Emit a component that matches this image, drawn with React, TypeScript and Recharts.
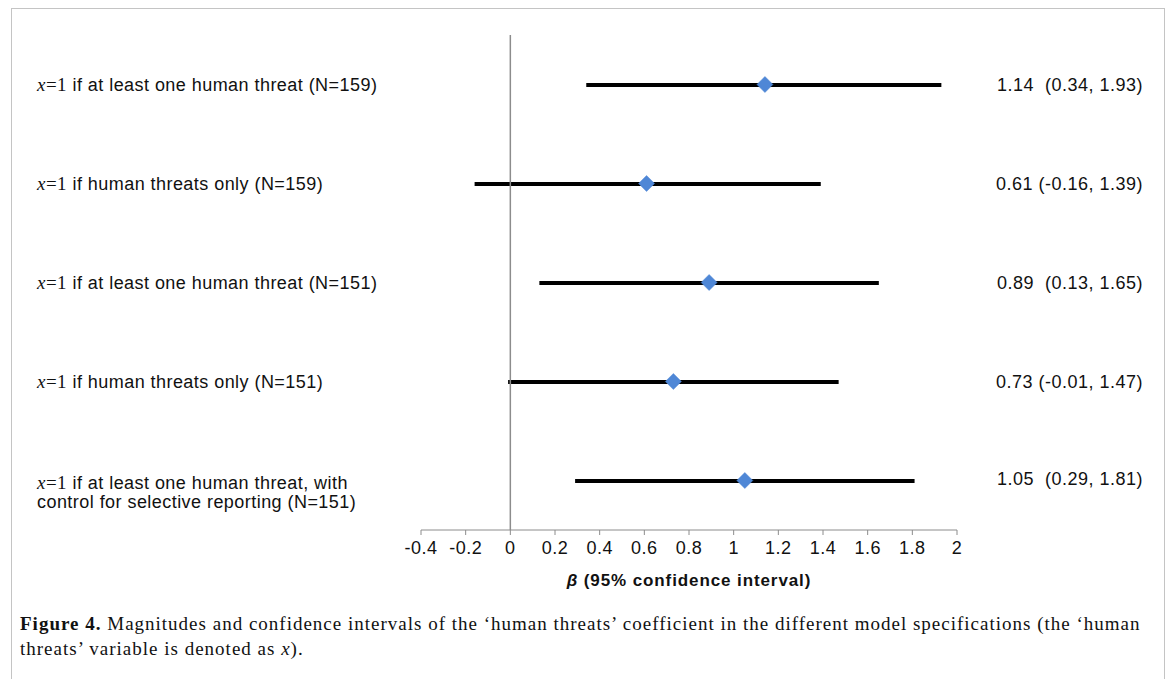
import React from 'react';
import { ComposedChart, Bar, Line, XAxis, YAxis, ReferenceLine, Label } from 'recharts';

const rowLabels = [
  'if at least one human threat (N=159)',
  'if human threats only (N=159)',
  'if at least one human threat (N=151)',
  'if human threats only (N=151)',
  'if at least one human threat, with\ncontrol for selective reporting (N=151)',
];
const estimates = [1.14, 0.61, 0.89, 0.73, 1.05];
const lowerCI = [0.34, -0.16, 0.13, -0.01, 0.29];
const upperCI = [1.93, 1.39, 1.65, 1.47, 1.81];
const ciLabels = [
  '1.14  (0.34, 1.93)',
  '0.61 (-0.16, 1.39)',
  '0.89  (0.13, 1.65)',
  '0.73 (-0.01, 1.47)',
  '1.05  (0.29, 1.81)',
];
const xTicks = [-0.4, -0.2, 0, 0.2, 0.4, 0.6, 0.8, 1, 1.2, 1.4, 1.6, 1.8, 2];

const data = rowLabels.map((label, i) => ({
  label,
  est: estimates[i],
  range: [lowerCI[i], upperCI[i]],
}));

const SANS = '"Liberation Sans", Arial, sans-serif';
const SERIF = '"Liberation Serif", "Times New Roman", serif';

const LeftTick = (props: any) => {
  const { y, payload } = props;
  const lines = String(payload.value).split('\n');
  return (
    <g>
      {lines.map((ln, k) => (
        <text
          key={k}
          x={29}
          y={y + (lines.length > 1 ? 2 : 0) + k * 19}
          dy="0.355em"
          fontFamily={SANS}
          fontSize={18}
          letterSpacing={0.45}
          fill="#111"
          textAnchor="start"
        >
          {k === 0 ? (
            <>
              <tspan fontFamily={SERIF} fontStyle="italic" fontSize={19}>x</tspan>
              <tspan fontFamily={SERIF} fontSize={19}>=1</tspan>
              <tspan>{' ' + ln}</tspan>
            </>
          ) : (
            ln
          )}
        </text>
      ))}
    </g>
  );
};

const RightTick = (props: any) => {
  const { y, payload } = props;
  const i = payload.index;
  return (
    <text
      x={1135}
      y={y - (i === 4 ? 2 : 0)}
      dy="0.355em"
      fontFamily={SANS}
      fontSize={18}
      letterSpacing={0.5}
      fill="#111"
      textAnchor="end"
      style={{ whiteSpace: 'pre' }}
    >
      {ciLabels[i]}
    </text>
  );
};

const Diamond = (props: any) => {
  const { cx, cy } = props;
  if (cx == null || cy == null) return null;
  const r = 8;
  return (
    <polygon
      points={`${cx},${cy - r} ${cx + r},${cy} ${cx},${cy + r} ${cx - r},${cy}`}
      fill="#4f87d6"
      stroke="#4f87d6"
      strokeWidth={0.5}
    />
  );
};

const fmt = (v: number) => String(Number(v.toFixed(1)));

export default function App() {
  return (
    <div style={{ position: 'relative', width: 1157, height: 671 }}>
      <div
        style={{
          position: 'absolute',
          left: 3,
          top: 0,
          width: 1152,
          height: 680,
          borderTop: '1px solid #c4c4c4',
          borderLeft: '1px solid #c4c4c4',
          borderRight: '1px solid #c4c4c4',
        }}
      />
      <div style={{ position: 'absolute', left: 0, top: 0 }}>
        <ComposedChart
          width={1157}
          height={600}
          data={data}
          layout="vertical"
          margin={{ top: 27, right: 8, bottom: 20, left: 13 }}
        >
          <XAxis
            type="number"
            domain={[-0.4, 2]}
            ticks={xTicks}
            tickFormatter={fmt}
            allowDataOverflow
            height={58}
            tickSize={5}
            tickMargin={6}
            axisLine={{ stroke: '#8c8c8c', strokeWidth: 1 }}
            tickLine={{ stroke: '#8c8c8c', strokeWidth: 1 }}
            tick={{ fill: '#111', fontFamily: SANS, fontSize: 18, letterSpacing: 0.5 }}
          >
            <Label
              position="insideBottom"
              offset={0}
              content={(p: any) => {
                const vb = p.viewBox;
                return (
                  <text
                    x={vb.x + vb.width / 2}
                    y={vb.y + vb.height - 2}
                    textAnchor="middle"
                    fontFamily={SANS}
                    fontSize={17}
                    letterSpacing={0.9}
                    fontWeight="bold"
                    fill="#111"
                  >
                    <tspan fontStyle="italic">β</tspan>
                    <tspan> (95% confidence interval)</tspan>
                  </text>
                );
              }}
            />
          </XAxis>
          <YAxis
            yAxisId="left"
            type="category"
            dataKey="label"
            width={400}
            axisLine={false}
            tickLine={false}
            tick={<LeftTick />}
            interval={0}
          />
          <YAxis
            yAxisId="right"
            orientation="right"
            type="category"
            dataKey="label"
            width={200}
            axisLine={false}
            tickLine={false}
            tick={<RightTick />}
            interval={0}
          />
          <ReferenceLine yAxisId="left" x={0} stroke="#8c8c8c" strokeWidth={1.5} />
          <Bar
            yAxisId="left"
            dataKey="range"
            barSize={4}
            fill="#000"
            isAnimationActive={false}
          />
          <Line
            yAxisId="left"
            dataKey="est"
            stroke="none"
            dot={<Diamond />}
            activeDot={false}
            isAnimationActive={false}
          />
        </ComposedChart>
      </div>
      <div
        style={{
          position: 'absolute',
          left: 12,
          top: 603,
          width: 1140,
          fontFamily: SERIF,
          fontSize: 19,
          letterSpacing: 1,
          lineHeight: '25px',
          color: '#111',
          whiteSpace: 'nowrap',
        }}
      >
        <b>Figure 4.</b> Magnitudes and confidence intervals of the ‘human threats’ coefficient in the different model specifications (the ‘human
        <br />
        threats’ variable is denoted as <i>x</i>).
      </div>
    </div>
  );
}
